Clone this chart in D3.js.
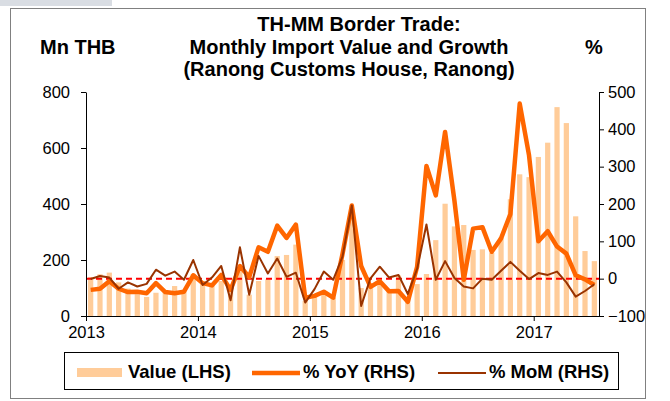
<!DOCTYPE html>
<meta charset="utf-8">
<title>TH-MM Border Trade</title>
<style>
  body { margin: 0; background: #fff; }
  svg { font-family: "Liberation Sans", Arial, sans-serif; }
  .axis text { font-size: 16.5px; fill: #000; }
  .axis path, .axis line { stroke: #000; }
  .title { font-size: 20px; font-weight: bold; }
  .legend text { font-size: 18.5px; font-weight: bold; }
</style>
<body>
<svg width="670" height="401"></svg>
<script src="https://d3js.org/d3.v7.min.js"></script>
<script>

// monthly categories, Jan 2013 .. Jul 2017
var months = [
  "Jan-13","Feb-13","Mar-13","Apr-13","May-13","Jun-13","Jul-13","Aug-13","Sep-13","Oct-13","Nov-13","Dec-13",
  "Jan-14","Feb-14","Mar-14","Apr-14","May-14","Jun-14","Jul-14","Aug-14","Sep-14","Oct-14","Nov-14","Dec-14",
  "Jan-15","Feb-15","Mar-15","Apr-15","May-15","Jun-15","Jul-15","Aug-15","Sep-15","Oct-15","Nov-15","Dec-15",
  "Jan-16","Feb-16","Mar-16","Apr-16","May-16","Jun-16","Jul-16","Aug-16","Sep-16","Oct-16","Nov-16","Dec-16",
  "Jan-17","Feb-17","Mar-17","Apr-17","May-17","Jun-17","Jul-17"
];

// import value, Mn THB (LHS)
var value = [
  139,149,155,120,98,78,68,83,85,107,89,150,
  118,110,125,100,160,76,125,131,214,218,255,54,
  71,80,66,200,380,100,113,122,95,145,65,114,
  150,271,401,320,325,236,238,225,280,417,506,496,
  568,619,746,689,356,232,196
];

// % YoY (RHS)
var yoy = [
  -30,-27,-7,-27,-36,-35,-39,-12,-36,-39,-35,9,
  -12,-18,10,-30,34,4,84,72,142,109,145,-51,
  -46,-35,-51,66,196,34,-22,-7,-34,-33,-62,32,
  302,223,393,209,-3,134,138,72,108,173,469,330,
  100,127,86,67,9,-2,-17
];

// % MoM (RHS)
var mom = [
  -1,7,3,-27,-10,-21,-14,24,8,19,-3,50,
  -17,3,34,-58,84,-43,61,14,54,5,16,-64,
  -28,19,-3,59,196,-73,1,32,3,10,-41,26,
  145,-3,47,2,-21,-26,0,-3,21,45,21,-1,
  15,10,19,-10,-48,-33,-15
];

var yearTicks = [0, 12, 24, 36, 48];
var yearLabels = ["2013", "2014", "2015", "2016", "2017"];
var leftTicks = [0, 200, 400, 600, 800];
var rightTicks = [-100, 0, 100, 200, 300, 400, 500];

var svg = d3.select("svg");
var plot = {left: 86, right: 599, top: 92, bottom: 316};

// chart frame
svg.append("rect").attr("x", 0).attr("y", 0).attr("width", 112).attr("height", 6).attr("fill", "#d9dde3");
svg.append("rect")
  .attr("x", 10.5).attr("y", 8.5).attr("width", 635).attr("height", 390)
  .attr("fill", "#fff").attr("stroke", "#808080");

var x = d3.scaleBand().domain(months).range([plot.left, plot.right]).paddingInner(0).paddingOuter(0);
var xl = d3.scaleLinear().domain([0, months.length]).range([plot.left, plot.right]);
var yl = d3.scaleLinear().domain([0, 800]).range([plot.bottom, plot.top]);
var yr = d3.scaleLinear().domain([-100, 500]).range([plot.bottom, plot.top]);

// bars
var bw = x.bandwidth() * 0.56;
svg.append("g").selectAll("rect")
  .data(value)
  .enter().append("rect")
  .attr("x", function(d, i) { return x(months[i]) + (x.bandwidth() - bw) / 2; })
  .attr("y", function(d) { return yl(d); })
  .attr("width", bw)
  .attr("height", function(d) { return yl(0) - yl(d); })
  .attr("fill", "#ffcc99");

// zero line on RHS
svg.append("line")
  .attr("x1", plot.left).attr("x2", plot.right)
  .attr("y1", yr(0)).attr("y2", yr(0))
  .attr("stroke", "#ff0000").attr("stroke-width", 2)
  .attr("stroke-dasharray", "6,4");

var line = d3.line()
  .x(function(d, i) { return x(months[i]) + x.bandwidth() / 2; })
  .y(function(d) { return yr(d); });

svg.append("path").datum(yoy)
  .attr("d", line).attr("fill", "none")
  .attr("stroke", "#ff6600").attr("stroke-width", 4.5).attr("stroke-linejoin", "round");

svg.append("path").datum(mom)
  .attr("d", line).attr("fill", "none")
  .attr("stroke", "#993300").attr("stroke-width", 2).attr("stroke-linejoin", "round");

// axes
svg.append("g").attr("class", "axis")
  .attr("transform", "translate(" + plot.left + ",0)")
  .call(d3.axisLeft(yl).tickValues(leftTicks).tickSize(5).tickPadding(11).tickSizeOuter(0));

svg.append("g").attr("class", "axis")
  .attr("transform", "translate(" + plot.right + ",0)")
  .call(d3.axisRight(yr).tickValues(rightTicks).tickSize(5).tickPadding(4).tickSizeOuter(0));

svg.append("g").attr("class", "axis")
  .attr("transform", "translate(0," + plot.bottom + ")")
  .call(d3.axisBottom(xl).tickValues(yearTicks).tickSize(5).tickPadding(5).tickSizeOuter(0)
    .tickFormat(function(d, i) { return yearLabels[i]; }));

// titles
var titleLines = ["TH-MM Border Trade:", "Monthly Import Value and Growth", "(Ranong Customs House, Ranong)"];
var titleX = [359, 349, 349];
svg.append("g").selectAll("text")
  .data(titleLines)
  .enter().append("text")
  .attr("class", "title")
  .attr("x", function(d, i) { return titleX[i]; })
  .attr("y", function(d, i) { return 31 + i * 22.5; })
  .attr("text-anchor", "middle")
  .text(function(d) { return d; });

svg.append("text").attr("class", "title").attr("x", 40).attr("y", 54).text("Mn THB");
svg.append("text").attr("class", "title").attr("x", 585).attr("y", 54).text("%");

// legend
var lg = svg.append("g").attr("class", "legend");
lg.append("rect").attr("x", 64.5).attr("y", 352.5).attr("width", 554).attr("height", 37)
  .attr("fill", "#fff").attr("stroke", "#000");
lg.append("rect").attr("x", 77).attr("y", 368).attr("width", 45).attr("height", 9).attr("fill", "#ffcc99");
lg.append("text").attr("x", 128).attr("y", 378).text("Value (LHS)");
lg.append("line").attr("x1", 252).attr("x2", 300).attr("y1", 373).attr("y2", 373)
  .attr("stroke", "#ff6600").attr("stroke-width", 4.5);
lg.append("text").attr("x", 303).attr("y", 378).text("% YoY (RHS)");
lg.append("line").attr("x1", 438).attr("x2", 486).attr("y1", 373).attr("y2", 373)
  .attr("stroke", "#993300").attr("stroke-width", 2);
lg.append("text").attr("x", 489).attr("y", 378).text("% MoM (RHS)");

</script>
</body>
